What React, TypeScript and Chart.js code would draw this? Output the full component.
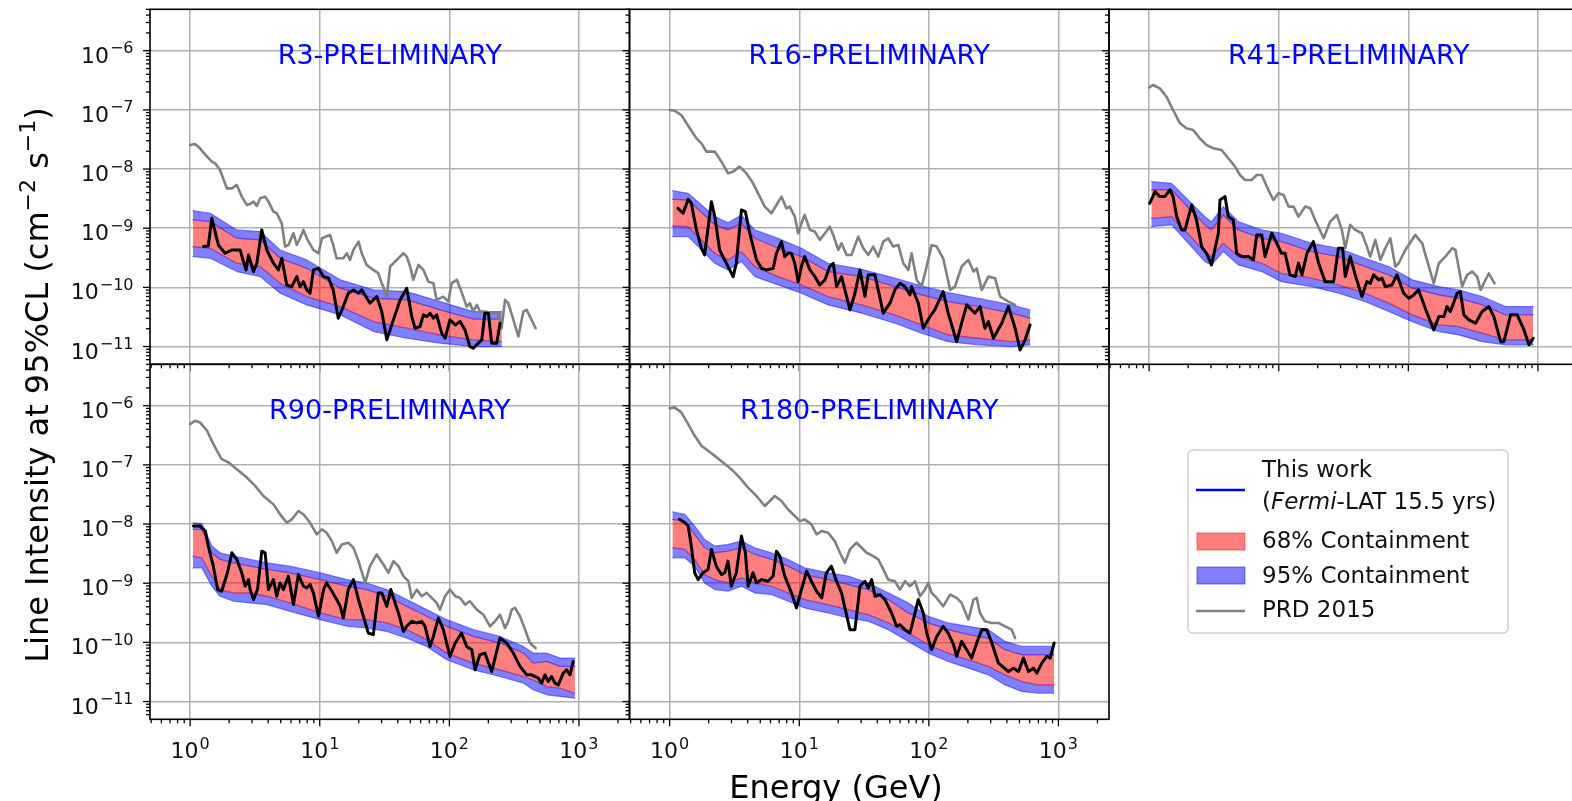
import { useEffect, useRef } from 'react';
import { Chart, registerables } from 'chart.js';

Chart.register(...registerables);

// ---------------- data ----------------
// R3
const r3BandEnergy = [1.05, 1.43, 2.29, 3.47, 4.95, 7.94, 14.4, 26.0, 47.0, 84.9, 153, 254];
const r3Upper95 = [1.98e-9, 1.79e-9, 9.35e-10, 8.77e-10, 4.29e-10, 2.91e-10, 1.34e-10, 9.06e-11, 8.49e-11, 5.75e-11, 3.90e-11, 3.90e-11];
const r3Upper68 = [1.38e-9, 1.29e-9, 6.76e-10, 6.34e-10, 3.10e-10, 2.10e-10, 9.67e-11, 6.55e-11, 6.14e-11, 4.16e-11, 2.90e-11, 2.90e-11];
const r3Lower68 = [4.89e-10, 4.58e-10, 2.56e-10, 2.25e-10, 1.17e-10, 7.00e-11, 4.74e-11, 2.64e-11, 2.04e-11, 1.57e-11, 1.30e-11, 1.21e-11];
const r3Lower95 = [3.31e-10, 3.10e-10, 1.85e-10, 1.52e-10, 7.96e-11, 5.06e-11, 3.43e-11, 1.79e-11, 1.38e-11, 1.14e-11, 1.0e-11, 1.0e-11];
const r3LimitEnergy = [1.27, 1.38, 1.47, 1.65, 1.86, 2.10, 2.43, 2.58, 2.70, 2.82, 2.95, 3.08, 3.27, 3.57, 3.90, 4.39, 4.80, 5.09, 5.57, 6.08, 6.65, 7.05, 7.48, 7.94, 8.42, 8.93, 9.77, 10.7, 11.7, 12.7, 13.9, 15.2, 16.6, 18.2, 19.9, 21.1, 24.4, 27.5, 30.1, 32.9, 37.0, 41.7, 46.9, 51.3, 54.3, 59.4, 63.1, 66.8, 71.0, 75.3, 79.8, 87.3, 92.7, 101, 111, 121, 132, 144, 153, 167, 178, 188, 200, 212, 232, 246];
const r3Limit = [4.89e-10, 5.01e-10, 1.47e-9, 5.21e-10, 3.77e-10, 4.29e-10, 4.29e-10, 2.73e-10, 1.97e-10, 3.53e-10, 2.56e-10, 1.85e-10, 2.56e-10, 9.35e-10, 4.29e-10, 2.56e-10, 1.97e-10, 3.10e-10, 1.10e-10, 1.03e-10, 1.52e-10, 1.03e-10, 1.25e-10, 9.06e-11, 7.96e-11, 1.97e-10, 2.10e-10, 1.52e-10, 1.43e-10, 9.06e-11, 3.01e-11, 4.74e-11, 7.96e-11, 9.06e-11, 7.96e-11, 9.06e-11, 5.40e-11, 7.00e-11, 3.90e-11, 1.30e-11, 2.82e-11, 6.14e-11, 9.67e-11, 3.21e-11, 2.04e-11, 2.18e-11, 3.43e-11, 3.21e-11, 3.66e-11, 3.01e-11, 3.43e-11, 1.68e-11, 1.38e-11, 2.82e-11, 2.32e-11, 2.64e-11, 1.91e-11, 1.0e-11, 9.37e-12, 1.14e-11, 1.30e-11, 3.66e-11, 3.66e-11, 1.14e-11, 1.14e-11, 2.48e-11];
const r3PrdEnergy = [1.0, 1.09, 1.19, 1.35, 1.47, 1.56, 1.70, 1.92, 2.10, 2.29, 2.50, 2.74, 2.90, 3.08, 3.27, 3.47, 3.79, 4.02, 4.39, 4.66, 5.09, 5.40, 5.73, 6.27, 6.65, 7.05, 7.48, 7.94, 8.93, 9.77, 10.4, 12.0, 12.7, 13.5, 15.2, 16.2, 17.1, 18.2, 19.9, 21.1, 23.0, 25.9, 28.3, 30.1, 31.9, 32.9, 34.9, 39.3, 44.2, 46.9, 49.8, 52.7, 57.7, 63.1, 68.9, 75.3, 79.8, 89.9, 98.2, 104, 114, 124, 136, 144, 153, 163, 172, 188, 206, 239, 253, 269, 285, 312, 341, 372, 395, 431, 463];
const r3Prd = [2.55e-8, 2.65e-8, 2.24e-8, 1.62e-8, 1.33e-8, 1.25e-8, 9.64e-9, 4.72e-9, 4.72e-9, 5.38e-9, 3.42e-9, 2.47e-9, 2.57e-9, 2.81e-9, 2.38e-9, 3.21e-9, 3.42e-9, 2.81e-9, 1.91e-9, 1.79e-9, 1.21e-9, 4.89e-10, 5.21e-10, 8.21e-10, 5.21e-10, 6.76e-10, 9.35e-10, 6.76e-10, 4.29e-10, 3.77e-10, 6.76e-10, 7.69e-10, 5.21e-10, 3.10e-10, 3.10e-10, 3.77e-10, 2.91e-10, 4.29e-10, 5.94e-10, 3.77e-10, 2.40e-10, 1.97e-10, 1.73e-10, 1.17e-10, 8.49e-11, 7.00e-11, 2.25e-10, 2.91e-10, 3.77e-10, 3.31e-10, 2.25e-10, 1.34e-10, 2.40e-10, 1.97e-10, 1.25e-10, 1.17e-10, 6.14e-11, 7.00e-11, 5.75e-11, 1.17e-10, 1.34e-10, 8.49e-11, 4.74e-11, 5.40e-11, 3.90e-11, 5.06e-11, 3.90e-11, 3.90e-11, 3.66e-11, 3.66e-11, 2.04e-11, 6.14e-11, 5.40e-11, 2.82e-11, 1.48e-11, 3.90e-11, 4.16e-11, 2.82e-11, 2.04e-11];

// R16
const r16BandEnergy = [1.05, 1.39, 2.23, 2.82, 3.58, 4.54, 6.87, 10.4, 16.7, 30.3, 54.7, 87.9, 141, 241, 436, 604];
const r16Upper95 = [4.31e-9, 3.89e-9, 1.57e-9, 1.24e-9, 1.67e-9, 9.35e-10, 6.76e-10, 4.58e-10, 2.56e-10, 2.02e-10, 1.43e-10, 1.06e-10, 8.17e-11, 6.55e-11, 5.06e-11, 4.16e-11];
const r16Upper68 = [3.08e-9, 3.00e-9, 1.14e-9, 9.35e-10, 1.21e-9, 6.76e-10, 4.58e-10, 3.31e-10, 1.85e-10, 1.52e-10, 1.03e-10, 7.46e-11, 5.75e-11, 4.74e-11, 3.66e-11, 3.01e-11];
const r16Lower68 = [1.09e-9, 1.06e-9, 3.77e-10, 2.91e-10, 4.03e-10, 2.25e-10, 1.52e-10, 1.10e-10, 7.00e-11, 5.06e-11, 3.43e-11, 2.32e-11, 1.57e-11, 1.38e-11, 1.21e-11, 1.30e-11];
const r16Lower95 = [7.21e-10, 7.21e-10, 2.56e-10, 1.97e-10, 2.73e-10, 1.52e-10, 1.10e-10, 7.96e-11, 5.06e-11, 3.66e-11, 2.48e-11, 1.68e-11, 1.21e-11, 1.07e-11, 1.0e-11, 1.07e-11];
const r16LimitEnergy = [1.16, 1.27, 1.39, 1.47, 1.61, 1.76, 1.86, 2.10, 2.23, 2.43, 2.82, 3.09, 3.27, 3.58, 3.84, 4.15, 4.68, 5.11, 5.58, 6.29, 6.67, 7.29, 7.73, 8.20, 8.71, 9.24, 9.81, 10.4, 11.0, 12.1, 13.2, 14.4, 15.8, 17.2, 18.3, 19.4, 21.2, 22.5, 24.6, 26.9, 29.4, 32.1, 34.1, 38.4, 44.5, 50.1, 54.7, 59.8, 65.4, 71.5, 73.6, 82.9, 90.6, 102, 111, 129, 141, 164, 179, 196, 214, 227, 248, 271, 288, 315, 365, 411, 463, 506, 553, 604];
const r16Limit = [2.17e-9, 1.79e-9, 3.08e-9, 2.64e-9, 9.35e-10, 4.58e-10, 3.53e-10, 2.81e-9, 1.57e-9, 4.29e-10, 2.25e-10, 1.52e-10, 2.56e-10, 2.04e-9, 1.91e-9, 8.21e-10, 2.91e-10, 2.10e-10, 1.97e-10, 2.10e-10, 3.77e-10, 5.94e-10, 3.31e-10, 3.77e-10, 3.77e-10, 2.56e-10, 1.25e-10, 2.25e-10, 3.31e-10, 1.97e-10, 1.52e-10, 1.10e-10, 1.34e-10, 2.25e-10, 2.56e-10, 1.03e-10, 1.52e-10, 9.06e-11, 4.16e-11, 7.96e-11, 1.97e-10, 7.00e-11, 1.63e-10, 1.63e-10, 3.66e-11, 5.40e-11, 9.06e-11, 1.17e-10, 1.03e-10, 7.46e-11, 1.03e-10, 5.40e-11, 2.04e-11, 3.21e-11, 4.16e-11, 8.49e-11, 3.66e-11, 1.21e-11, 2.48e-11, 5.06e-11, 4.16e-11, 3.66e-11, 4.74e-11, 2.04e-11, 2.64e-11, 1.38e-11, 2.48e-11, 4.74e-11, 2.04e-11, 8.79e-12, 1.30e-11, 2.32e-11];
const r16PrdEnergy = [1.0, 1.09, 1.23, 1.43, 1.61, 1.76, 1.92, 2.23, 2.51, 2.82, 3.09, 3.47, 3.91, 4.40, 4.96, 5.42, 6.10, 6.67, 7.29, 7.96, 8.45, 9.24, 9.81, 10.4, 11.0, 12.1, 13.2, 14.4, 15.8, 17.2, 18.3, 20.0, 21.2, 23.2, 25.3, 28.5, 31.2, 34.1, 37.2, 40.7, 44.5, 48.6, 53.1, 58.1, 63.5, 69.4, 73.6, 80.5, 87.9, 96.2, 105, 115, 129, 146, 159, 179, 202, 221, 234, 256, 288, 324, 355, 411, 463];
const r16Prd = [9.95e-8, 9.69e-8, 8.18e-8, 4.88e-8, 3.30e-8, 2.72e-8, 1.97e-8, 1.97e-8, 1.33e-8, 8.47e-9, 9.04e-9, 1.10e-8, 8.47e-9, 5.74e-9, 3.42e-9, 2.32e-9, 1.79e-9, 2.47e-9, 3.42e-9, 2.17e-9, 2.32e-9, 1.57e-9, 8.21e-10, 1.21e-9, 1.67e-9, 9.35e-10, 8.77e-10, 6.34e-10, 8.21e-10, 1.06e-9, 7.69e-10, 4.29e-10, 5.56e-10, 3.53e-10, 3.53e-10, 7.21e-10, 4.58e-10, 3.53e-10, 4.89e-10, 3.31e-10, 5.94e-10, 6.76e-10, 4.89e-10, 5.21e-10, 2.56e-10, 1.97e-10, 3.77e-10, 1.34e-10, 1.03e-10, 2.25e-10, 5.21e-10, 4.89e-10, 3.10e-10, 9.06e-11, 1.03e-10, 2.25e-10, 2.91e-10, 1.85e-10, 2.10e-10, 9.06e-11, 1.52e-10, 1.43e-10, 7.00e-11, 5.75e-11, 5.06e-11];

// R41
const r41BandEnergy = [1.04, 1.49, 2.69, 3.03, 3.73, 4.88, 7.39, 10.5, 18.0, 28.9, 46.5, 70.5, 107, 172, 245, 371, 562, 920];
const r41Upper95 = [6.12e-9, 5.74e-9, 1.57e-9, 1.29e-9, 2.32e-9, 1.29e-9, 9.35e-10, 8.21e-10, 5.56e-10, 4.58e-10, 3.10e-10, 2.25e-10, 1.34e-10, 1.03e-10, 9.06e-11, 7.00e-11, 4.74e-11, 4.74e-11];
const r41Upper68 = [4.43e-9, 4.43e-9, 1.14e-9, 9.35e-10, 1.67e-9, 9.35e-10, 6.76e-10, 5.94e-10, 4.03e-10, 3.31e-10, 2.25e-10, 1.63e-10, 9.67e-11, 7.46e-11, 6.55e-11, 5.06e-11, 3.43e-11, 3.43e-11];
const r41Lower68 = [1.47e-9, 1.57e-9, 4.03e-10, 3.31e-10, 5.56e-10, 3.31e-10, 2.56e-10, 1.73e-10, 1.43e-10, 1.10e-10, 7.96e-11, 5.40e-11, 3.43e-11, 2.32e-11, 2.18e-11, 1.68e-11, 1.30e-11, 1.30e-11];
const r41Lower95 = [1.06e-9, 1.14e-9, 2.73e-10, 2.40e-10, 4.03e-10, 2.40e-10, 1.85e-10, 1.25e-10, 1.03e-10, 7.96e-11, 5.75e-11, 3.90e-11, 2.64e-11, 1.79e-11, 1.57e-11, 1.21e-11, 1.07e-11, 1.07e-11];
const r41LimitEnergy = [1.01, 1.11, 1.21, 1.32, 1.45, 1.53, 1.63, 1.78, 1.89, 2.13, 2.32, 2.54, 2.77, 3.03, 3.42, 3.52, 3.85, 4.08, 4.46, 4.73, 5.18, 5.83, 6.37, 6.76, 7.39, 7.84, 8.83, 9.66, 10.5, 11.2, 12.2, 13.4, 14.2, 15.1, 16.5, 18.5, 20.3, 22.8, 26.5, 28.9, 31.1, 32.6, 35.6, 38.9, 43.8, 47.9, 50.8, 54.0, 59.0, 62.5, 66.4, 74.8, 81.7, 92.0, 101, 110, 120, 135, 157, 172, 188, 199, 211, 238, 252, 268, 293, 330, 371, 418, 457, 515, 546, 615, 692, 780, 852, 920];
const r41Limit = [2.64e-9, 4.15e-9, 3.42e-9, 3.42e-9, 4.43e-9, 3.42e-9, 1.57e-9, 9.35e-10, 9.35e-10, 2.47e-9, 1.38e-9, 4.89e-10, 3.77e-10, 2.40e-10, 8.21e-10, 3.00e-9, 3.42e-9, 1.57e-9, 1.38e-9, 3.77e-10, 3.31e-10, 3.31e-10, 2.91e-10, 7.69e-10, 7.69e-10, 3.31e-10, 8.21e-10, 5.56e-10, 3.77e-10, 3.77e-10, 1.63e-10, 1.52e-10, 2.56e-10, 1.63e-10, 3.77e-10, 5.94e-10, 2.56e-10, 1.25e-10, 1.25e-10, 4.58e-10, 4.58e-10, 1.52e-10, 3.31e-10, 1.63e-10, 7.00e-11, 1.25e-10, 1.17e-10, 1.63e-10, 1.34e-10, 1.43e-10, 1.03e-10, 1.10e-10, 1.63e-10, 7.96e-11, 6.55e-11, 7.46e-11, 9.06e-11, 4.45e-11, 1.91e-11, 3.21e-11, 3.21e-11, 4.74e-11, 3.90e-11, 7.96e-11, 8.49e-11, 3.43e-11, 2.82e-11, 2.48e-11, 3.90e-11, 4.74e-11, 3.21e-11, 1.21e-11, 1.21e-11, 3.43e-11, 3.43e-11, 1.91e-11, 1.07e-11, 1.38e-11];
const r41PrdEnergy = [1.0, 1.07, 1.21, 1.36, 1.53, 1.73, 1.94, 2.19, 2.46, 2.77, 3.13, 3.62, 4.08, 4.60, 5.02, 5.49, 6.18, 6.76, 7.39, 8.32, 9.10, 9.94, 10.9, 11.9, 13.0, 14.2, 16.0, 17.5, 19.1, 22.2, 24.9, 28.1, 30.7, 32.6, 35.6, 38.9, 43.8, 47.9, 50.8, 55.6, 60.8, 66.4, 72.6, 79.3, 84.2, 94.8, 113, 128, 139, 157, 172, 193, 218, 231, 260, 284, 311, 340, 361, 382, 418, 462];
const r41Prd = [2.40e-7, 2.63e-7, 2.31e-7, 1.67e-7, 9.95e-8, 5.93e-8, 4.88e-8, 4.57e-8, 3.30e-8, 2.55e-8, 2.24e-8, 2.10e-8, 1.52e-8, 1.10e-8, 7.94e-9, 6.53e-9, 6.53e-9, 7.94e-9, 7.94e-9, 4.43e-9, 3.00e-9, 3.89e-9, 3.65e-9, 2.32e-9, 2.32e-9, 1.57e-9, 2.32e-9, 2.17e-9, 1.38e-9, 6.76e-10, 1.29e-9, 1.67e-9, 9.35e-10, 4.58e-10, 1.14e-9, 9.35e-10, 8.21e-10, 4.89e-10, 3.31e-10, 6.34e-10, 2.91e-10, 4.58e-10, 6.76e-10, 2.25e-10, 2.56e-10, 4.29e-10, 7.69e-10, 5.56e-10, 2.91e-10, 1.17e-10, 2.56e-10, 3.31e-10, 4.58e-10, 4.29e-10, 1.03e-10, 1.63e-10, 1.85e-10, 1.52e-10, 9.06e-11, 1.17e-10, 1.73e-10, 1.17e-10];

// R90
const r90BandEnergy = [1.05, 1.23, 1.47, 1.70, 2.16, 2.90, 3.90, 5.90, 10.1, 16.2, 23.0, 32.9, 46.9, 66.8, 95.4, 153, 246, 372, 444, 563, 713, 931];
const r90Upper95 = [1.05e-8, 1.03e-8, 4.24e-9, 3.27e-9, 2.87e-9, 2.52e-9, 2.21e-9, 1.94e-9, 1.50e-9, 1.15e-9, 1.01e-9, 7.81e-10, 5.29e-10, 3.58e-10, 2.42e-10, 1.64e-10, 1.26e-10, 8.55e-11, 6.59e-11, 6.59e-11, 5.42e-11, 5.42e-11];
const r90Upper68 = [8.13e-9, 8.13e-9, 3.27e-9, 2.52e-9, 2.21e-9, 1.94e-9, 1.71e-9, 1.50e-9, 1.15e-9, 8.89e-10, 7.81e-10, 6.02e-10, 4.07e-10, 2.76e-10, 1.87e-10, 1.26e-10, 9.75e-11, 6.59e-11, 4.47e-11, 4.76e-11, 3.92e-11, 3.92e-11];
const r90Lower68 = [2.87e-9, 2.69e-9, 1.32e-9, 7.81e-10, 6.86e-10, 6.86e-10, 6.02e-10, 4.65e-10, 3.14e-10, 2.42e-10, 2.42e-10, 2.13e-10, 1.64e-10, 1.11e-10, 6.59e-11, 4.47e-11, 3.44e-11, 2.65e-11, 2.33e-11, 1.79e-11, 1.68e-11, 1.38e-11];
const r90Lower95 = [1.82e-9, 1.82e-9, 8.89e-10, 6.02e-10, 4.95e-10, 4.65e-10, 4.35e-10, 3.35e-10, 2.42e-10, 1.87e-10, 1.75e-10, 1.53e-10, 1.18e-10, 8.55e-11, 5.08e-11, 3.44e-11, 2.65e-11, 2.05e-11, 1.58e-11, 1.30e-11, 1.22e-11, 1.14e-11];
const r90LimitEnergy = [1.06, 1.19, 1.31, 1.38, 1.51, 1.63, 1.75, 1.94, 2.10, 2.29, 2.50, 2.66, 2.82, 2.90, 3.08, 3.31, 3.57, 3.79, 4.02, 4.39, 4.66, 4.94, 5.25, 5.73, 6.27, 6.84, 7.48, 7.94, 8.42, 8.93, 9.77, 10.7, 11.3, 12.4, 13.5, 14.4, 15.2, 16.6, 18.2, 19.9, 21.7, 23.7, 25.9, 28.3, 30.1, 32.9, 35.3, 38.1, 40.5, 44.2, 46.9, 51.3, 56.0, 61.2, 64.9, 71.0, 75.3, 82.2, 89.9, 101, 111, 124, 136, 149, 158, 172, 188, 212, 246, 277, 312, 351, 395, 431, 486, 515, 547, 580, 615, 653, 693, 757, 804, 853, 904];
const r90Limit = [9.25e-9, 9.25e-9, 7.60e-9, 4.24e-9, 1.94e-9, 7.81e-10, 7.31e-10, 1.50e-9, 3.27e-9, 2.52e-9, 1.50e-9, 8.89e-10, 1.15e-9, 7.81e-10, 5.29e-10, 7.81e-10, 3.48e-9, 3.27e-9, 7.81e-10, 1.15e-9, 6.02e-10, 1.01e-9, 7.81e-10, 1.32e-9, 4.35e-10, 1.40e-9, 8.89e-10, 8.34e-10, 9.48e-10, 6.86e-10, 2.76e-10, 7.81e-10, 1.01e-9, 7.31e-10, 5.29e-10, 4.07e-10, 2.58e-10, 7.81e-10, 1.15e-9, 5.29e-10, 2.76e-10, 1.44e-10, 1.35e-10, 6.86e-10, 6.86e-10, 4.07e-10, 7.81e-10, 4.65e-10, 3.14e-10, 1.53e-10, 1.87e-10, 2.27e-10, 2.13e-10, 2.27e-10, 1.87e-10, 8.55e-11, 1.26e-10, 2.58e-10, 1.64e-10, 5.80e-11, 9.75e-11, 1.44e-10, 8.55e-11, 7.52e-11, 3.44e-11, 6.18e-11, 6.59e-11, 3.22e-11, 1.18e-10, 9.75e-11, 6.59e-11, 3.92e-11, 2.83e-11, 2.83e-11, 2.48e-11, 2.05e-11, 2.83e-11, 2.18e-11, 2.65e-11, 2.05e-11, 1.91e-11, 3.02e-11, 3.44e-11, 2.83e-11, 4.76e-11];
const r90PrdEnergy = [1.0, 1.09, 1.19, 1.35, 1.47, 1.61, 1.75, 1.98, 2.29, 2.74, 3.17, 3.68, 4.39, 4.94, 5.57, 6.08, 6.84, 7.48, 8.42, 9.48, 10.4, 11.3, 12.4, 13.5, 14.8, 16.6, 18.2, 19.9, 22.4, 24.4, 27.5, 31.0, 33.9, 37.0, 40.5, 44.2, 48.3, 51.3, 56.0, 61.2, 66.8, 73.1, 79.8, 84.7, 92.6, 101, 111, 121, 132, 144, 163, 183, 206, 225, 246, 269, 285, 303, 321, 351, 384, 419, 463];
const r90Prd = [4.89e-7, 5.57e-7, 5.22e-7, 3.77e-7, 2.55e-7, 1.73e-7, 1.25e-7, 1.10e-7, 8.45e-8, 6.10e-8, 4.41e-8, 2.98e-8, 2.15e-8, 1.46e-8, 1.05e-8, 1.20e-8, 1.66e-8, 1.46e-8, 1.05e-8, 6.68e-9, 8.13e-9, 7.13e-9, 5.15e-9, 3.27e-9, 4.52e-9, 4.83e-9, 3.97e-9, 2.36e-9, 1.01e-9, 1.94e-9, 3.06e-9, 2.07e-9, 1.50e-9, 2.36e-9, 1.94e-9, 1.32e-9, 1.08e-9, 5.64e-10, 7.81e-10, 6.02e-10, 6.86e-10, 5.64e-10, 4.65e-10, 3.58e-10, 6.02e-10, 7.81e-10, 6.02e-10, 5.64e-10, 4.35e-10, 4.95e-10, 3.58e-10, 2.94e-10, 1.87e-10, 2.27e-10, 2.94e-10, 1.75e-10, 2.27e-10, 3.58e-10, 3.82e-10, 2.76e-10, 1.64e-10, 9.75e-11, 8.02e-11];

// R180
const r180BandEnergy = [1.05, 1.31, 1.56, 1.86, 2.23, 2.82, 3.58, 4.54, 6.10, 8.20, 11.0, 16.7, 23.9, 34.1, 48.6, 69.4, 99.0, 141, 202, 288, 387, 521, 701, 926];
const r180Upper95 = [1.60e-8, 1.46e-8, 9.25e-9, 5.50e-9, 4.24e-9, 4.52e-9, 5.15e-9, 3.97e-9, 3.27e-9, 2.52e-9, 1.82e-9, 1.50e-9, 1.32e-9, 1.01e-9, 6.86e-10, 4.65e-10, 2.76e-10, 2.13e-10, 1.87e-10, 1.64e-10, 1.04e-10, 8.55e-11, 8.55e-11, 8.55e-11];
const r180Upper68 = [1.20e-8, 1.12e-8, 6.68e-9, 3.97e-9, 3.27e-9, 3.48e-9, 3.97e-9, 3.06e-9, 2.52e-9, 1.94e-9, 1.40e-9, 1.15e-9, 9.48e-10, 7.81e-10, 5.29e-10, 3.14e-10, 2.13e-10, 1.64e-10, 1.35e-10, 1.18e-10, 7.52e-11, 6.18e-11, 6.18e-11, 6.18e-11];
const r180Lower68 = [3.97e-9, 3.72e-9, 2.52e-9, 1.40e-9, 1.15e-9, 1.01e-9, 1.23e-9, 1.01e-9, 8.89e-10, 6.86e-10, 5.29e-10, 4.35e-10, 3.58e-10, 2.94e-10, 2.13e-10, 1.44e-10, 9.12e-11, 6.59e-11, 5.08e-11, 3.92e-11, 2.83e-11, 2.18e-11, 1.91e-11, 1.91e-11];
const r180Lower95 = [2.69e-9, 2.69e-9, 1.94e-9, 1.01e-9, 7.81e-10, 7.31e-10, 8.89e-10, 6.86e-10, 6.43e-10, 4.95e-10, 3.82e-10, 3.14e-10, 2.58e-10, 2.27e-10, 1.64e-10, 1.04e-10, 6.59e-11, 4.76e-11, 3.67e-11, 2.83e-11, 1.91e-11, 1.48e-11, 1.38e-11, 1.38e-11];
const r180LimitEnergy = [1.19, 1.31, 1.39, 1.47, 1.56, 1.66, 1.81, 1.98, 2.10, 2.29, 2.51, 2.66, 2.82, 2.99, 3.27, 3.58, 3.84, 4.03, 4.40, 4.68, 5.11, 5.75, 6.29, 6.67, 7.08, 7.73, 8.71, 9.52, 10.4, 11.4, 12.4, 13.6, 14.9, 16.2, 17.7, 19.4, 21.2, 22.5, 24.6, 26.9, 29.4, 32.1, 34.1, 36.2, 38.4, 41.9, 45.8, 51.6, 56.4, 59.8, 65.4, 71.5, 78.2, 82.9, 90.6, 96.2, 105, 115, 129, 141, 155, 164, 179, 196, 214, 234, 256, 280, 306, 344, 411, 450, 491, 537, 587, 642, 681, 744, 813, 863, 926];
const r180Limit = [1.20e-8, 1.05e-8, 9.25e-9, 4.24e-9, 1.50e-9, 1.15e-9, 1.50e-9, 1.71e-9, 3.72e-9, 1.94e-9, 1.40e-9, 1.50e-9, 2.36e-9, 8.89e-10, 1.50e-9, 6.27e-9, 3.27e-9, 8.89e-10, 1.50e-9, 1.01e-9, 1.15e-9, 1.08e-9, 1.32e-9, 3.48e-9, 2.87e-9, 1.32e-9, 6.86e-10, 3.82e-10, 7.81e-10, 1.60e-9, 1.08e-9, 7.31e-10, 5.64e-10, 1.50e-9, 1.94e-9, 1.08e-9, 6.86e-10, 3.82e-10, 1.64e-10, 1.64e-10, 8.89e-10, 1.08e-9, 8.34e-10, 1.15e-9, 6.02e-10, 6.43e-10, 5.29e-10, 3.14e-10, 1.87e-10, 1.99e-10, 1.64e-10, 1.44e-10, 3.14e-10, 5.29e-10, 3.14e-10, 1.44e-10, 7.52e-11, 1.26e-10, 1.87e-10, 1.44e-10, 9.12e-11, 5.80e-11, 1.04e-10, 7.52e-11, 5.42e-11, 9.75e-11, 1.64e-10, 1.64e-10, 9.75e-11, 4.47e-11, 3.22e-11, 3.67e-11, 3.22e-11, 5.42e-11, 3.22e-11, 3.67e-11, 3.02e-11, 4.47e-11, 5.80e-11, 5.42e-11, 9.75e-11];
const r180PrdEnergy = [1.0, 1.09, 1.23, 1.39, 1.56, 1.76, 1.98, 2.23, 2.58, 2.99, 3.47, 4.03, 4.68, 5.42, 5.93, 6.48, 7.29, 8.20, 9.24, 10.1, 11.0, 12.4, 13.6, 14.9, 16.7, 18.8, 20.6, 22.5, 24.6, 27.7, 30.3, 33.1, 37.2, 40.7, 44.5, 48.6, 54.7, 59.8, 65.4, 71.5, 78.2, 85.4, 93.4, 99.0, 105, 115, 129, 146, 164, 179, 202, 221, 234, 248, 271, 306, 344, 387, 436, 463];
const r180Prd = [9.02e-7, 9.37e-7, 7.71e-7, 4.89e-7, 3.10e-7, 2.10e-7, 1.73e-7, 1.42e-7, 1.10e-7, 8.45e-8, 6.10e-8, 4.13e-8, 2.98e-8, 2.02e-8, 2.45e-8, 2.98e-8, 2.45e-8, 1.77e-8, 1.37e-8, 1.12e-8, 1.20e-8, 9.87e-9, 6.68e-9, 7.60e-9, 7.13e-9, 5.15e-9, 3.27e-9, 2.21e-9, 3.72e-9, 4.83e-9, 3.97e-9, 3.27e-9, 2.87e-9, 2.52e-9, 1.71e-9, 1.15e-9, 1.08e-9, 7.81e-10, 1.08e-9, 8.89e-10, 1.08e-9, 6.02e-10, 7.81e-10, 1.01e-9, 6.86e-10, 5.64e-10, 4.07e-10, 6.43e-10, 5.64e-10, 4.65e-10, 2.42e-10, 5.29e-10, 5.64e-10, 3.14e-10, 2.27e-10, 2.13e-10, 2.13e-10, 1.87e-10, 1.64e-10, 1.18e-10];

// axis ticks / labels
const xTickValues = [1, 10, 100, 1000];
const yTickValues = [1e-11, 1e-10, 1e-9, 1e-8, 1e-7, 1e-6];
const panelTitles = ['R3-PRELIMINARY', 'R16-PRELIMINARY', 'R41-PRELIMINARY', 'R90-PRELIMINARY', 'R180-PRELIMINARY'];
const legendLabels = ['This work', '68% Containment', '95% Containment', 'PRD 2015'];
const xTitle = 'Energy (GeV)';
const yTitleParts: [string, boolean][] = [['Line Intensity at 95%CL (cm', false], ['−2', true], [' s', false], ['−1', true], [')', false]];

// ---------------- layout / style ----------------
const FONT = "'DejaVu Sans', 'Liberation Sans', sans-serif";
const CANVAS_H = 801;
const PANEL_W = 479.5;
const PANEL_H = 355;
const Y_AXIS_W = 80;
const X_AXIS_H = 50;
const X_MIN = 0.49;
const X_MAX = 2455;
const Y_MIN = 5.01e-12;
const Y_MAX = 5.01e-6;
const GRID = '#b0b0b0';
const BLUE_FILL = 'rgba(0,0,255,0.5)';
const RED_FILL = 'rgba(255,0,0,0.5)';
const BLUE_EDGE = 'rgba(40,40,255,0.55)';
const PURPLE_EDGE = 'rgba(100,0,170,0.55)';

const panelLayout = [
  { left: 150, top: 9.3, yLabels: true, xLabels: false, canvasW: 1572 },
  { left: 629.5, top: 9.3, yLabels: false, xLabels: false, canvasW: 1572 },
  { left: 1109, top: 9.3, yLabels: false, xLabels: false, canvasW: 1600 },
  { left: 150, top: 364.3, yLabels: true, xLabels: true, canvasW: 1572 },
  { left: 629.5, top: 364.3, yLabels: false, xLabels: true, canvasW: 1572 },
];

const panelData = [
  { e: r3LimitEnergy, v: r3Limit, pe: r3PrdEnergy, pv: r3Prd, be: r3BandEnergy, u95: r3Upper95, u68: r3Upper68, l68: r3Lower68, l95: r3Lower95 },
  { e: r16LimitEnergy, v: r16Limit, pe: r16PrdEnergy, pv: r16Prd, be: r16BandEnergy, u95: r16Upper95, u68: r16Upper68, l68: r16Lower68, l95: r16Lower95 },
  { e: r41LimitEnergy, v: r41Limit, pe: r41PrdEnergy, pv: r41Prd, be: r41BandEnergy, u95: r41Upper95, u68: r41Upper68, l68: r41Lower68, l95: r41Lower95 },
  { e: r90LimitEnergy, v: r90Limit, pe: r90PrdEnergy, pv: r90Prd, be: r90BandEnergy, u95: r90Upper95, u68: r90Upper68, l68: r90Lower68, l95: r90Lower95 },
  { e: r180LimitEnergy, v: r180Limit, pe: r180PrdEnergy, pv: r180Prd, be: r180BandEnergy, u95: r180Upper95, u68: r180Upper68, l68: r180Lower68, l95: r180Lower95 },
];

const zip = (xs: number[], ys: number[]) => xs.map((x, i) => ({ x, y: ys[i] }));
const expText = (v: number) => {
  const n = Math.round(Math.log10(v));
  return n < 0 ? '−' + String(-n) : String(n);
};

// draws "10" with a mathtext-like superscript exponent
function drawPowLabel(ctx: CanvasRenderingContext2D, v: number, x: number, baseline: number, align: 'right' | 'center') {
  const exp = expText(v);
  ctx.font = `22px ${FONT}`;
  const wMain = ctx.measureText('10').width;
  ctx.font = `16px ${FONT}`;
  const wSup = ctx.measureText(exp).width;
  const total = wMain + 1 + wSup;
  const start = align === 'right' ? x - total : x - total / 2;
  ctx.textAlign = 'left';
  ctx.textBaseline = 'alphabetic';
  ctx.font = `22px ${FONT}`;
  ctx.fillText('10', start, baseline);
  ctx.font = `16px ${FONT}`;
  ctx.fillText(exp, start + wMain + 1, baseline - 9.5);
}

const panelPlugin = (i: number) => ({
  id: 'panelDeco' + i,
  afterDraw(chart: any) {
    const { ctx, chartArea: a } = chart;
    const xs = chart.scales.x;
    const ys = chart.scales.y;
    const L = panelLayout[i];
    ctx.save();
    ctx.strokeStyle = '#000';
    ctx.lineWidth = 1.3;
    for (let e = -12; e <= -5; e++) {
      for (let m = 1; m <= 9; m++) {
        const v = m * Math.pow(10, e);
        if (v < ys.min || v > ys.max) continue;
        const p = ys.getPixelForValue(v);
        const len = m === 1 ? 7 : 4;
        ctx.beginPath();
        ctx.moveTo(a.left - len, p);
        ctx.lineTo(a.left, p);
        ctx.stroke();
      }
    }
    for (let e = -1; e <= 3; e++) {
      for (let m = 1; m <= 9; m++) {
        const v = m * Math.pow(10, e);
        if (v < xs.min || v > xs.max) continue;
        const p = xs.getPixelForValue(v);
        const len = m === 1 ? 7 : 4;
        ctx.beginPath();
        ctx.moveTo(p, a.bottom);
        ctx.lineTo(p, a.bottom + len);
        ctx.stroke();
      }
    }
    ctx.lineWidth = 1.6;
    ctx.strokeRect(a.left, a.top, a.right - a.left, a.bottom - a.top);

    ctx.fillStyle = '#111';
    if (L.yLabels) {
      for (const v of yTickValues) drawPowLabel(ctx, v, a.left - 16.5, ys.getPixelForValue(v) + 12, 'right');
    }
    if (L.xLabels) {
      for (const v of xTickValues) drawPowLabel(ctx, v, xs.getPixelForValue(v), a.bottom + 39, 'center');
    }

    ctx.fillStyle = '#0000ff';
    ctx.font = `27px ${FONT}`;
    ctx.textAlign = 'center';
    ctx.textBaseline = 'alphabetic';
    ctx.fillText(panelTitles[i], (a.left + a.right) / 2, a.top + 55);
    ctx.restore();
  },
});

const figurePlugin = {
  id: 'figureDeco',
  afterDraw(chart: any) {
    const ctx: CanvasRenderingContext2D = chart.ctx;
    ctx.save();
    ctx.fillStyle = '#000';
    ctx.textBaseline = 'alphabetic';
    // x title
    ctx.font = `32px ${FONT}`;
    ctx.textAlign = 'center';
    ctx.fillText(xTitle, 836, 798);
    // y title (rotated, with superscripts)
    ctx.save();
    ctx.translate(48, 385);
    ctx.rotate(-Math.PI / 2);
    ctx.textAlign = 'left';
    let total = 0;
    for (const [t, s] of yTitleParts) {
      ctx.font = s ? `22px ${FONT}` : `32px ${FONT}`;
      total += ctx.measureText(t).width;
    }
    let x = -total / 2;
    for (const [t, s] of yTitleParts) {
      ctx.font = s ? `22px ${FONT}` : `32px ${FONT}`;
      ctx.fillText(t, x, s ? -13 : 0);
      x += ctx.measureText(t).width;
    }
    ctx.restore();

    // legend box
    const bx = 1188, by = 450, bw = 320, bh = 183, r = 5;
    ctx.beginPath();
    ctx.moveTo(bx + r, by);
    ctx.lineTo(bx + bw - r, by);
    ctx.arcTo(bx + bw, by, bx + bw, by + r, r);
    ctx.lineTo(bx + bw, by + bh - r);
    ctx.arcTo(bx + bw, by + bh, bx + bw - r, by + bh, r);
    ctx.lineTo(bx + r, by + bh);
    ctx.arcTo(bx, by + bh, bx, by + bh - r, r);
    ctx.lineTo(bx, by + r);
    ctx.arcTo(bx, by, bx + r, by, r);
    ctx.closePath();
    ctx.fillStyle = 'rgba(255,255,255,0.85)';
    ctx.fill();
    ctx.strokeStyle = '#d0d0d0';
    ctx.lineWidth = 1.5;
    ctx.stroke();

    // handles
    ctx.lineWidth = 2.6;
    ctx.strokeStyle = '#0000ff';
    ctx.beginPath(); ctx.moveTo(1196, 490); ctx.lineTo(1245, 490); ctx.stroke();
    ctx.fillStyle = RED_FILL; ctx.strokeStyle = RED_FILL; ctx.lineWidth = 1;
    ctx.fillRect(1197, 533, 48, 17); ctx.strokeRect(1197, 533, 48, 17);
    ctx.fillStyle = BLUE_FILL; ctx.strokeStyle = BLUE_FILL;
    ctx.fillRect(1197, 567, 48, 17); ctx.strokeRect(1197, 567, 48, 17);
    ctx.strokeStyle = '#808080'; ctx.lineWidth = 2.6;
    ctx.beginPath(); ctx.moveTo(1196, 611); ctx.lineTo(1245, 611); ctx.stroke();

    // legend text
    ctx.fillStyle = '#111';
    ctx.textAlign = 'left';
    const LF = `23px ${FONT}`;
    ctx.font = LF;
    ctx.fillText(legendLabels[0], 1262, 477);
    let tx = 1262;
    ctx.fillText('(', tx, 509); tx += ctx.measureText('(').width;
    ctx.font = `italic 23px ${FONT}`;
    ctx.fillText('Fermi', tx, 509); tx += ctx.measureText('Fermi').width;
    ctx.font = LF;
    ctx.fillText('-LAT 15.5 yrs)', tx, 509);
    ctx.fillText(legendLabels[1], 1262, 548);
    ctx.fillText(legendLabels[2], 1262, 583);
    ctx.fillText(legendLabels[3], 1262, 617);
    ctx.restore();
  },
};

function makeConfig(i: number): any {
  const d = panelData[i];
  const L = panelLayout[i];
  const plugins: any[] = [panelPlugin(i)];
  if (i === 4) plugins.push(figurePlugin);
  const line = { pointRadius: 0, tension: 0, borderJoinStyle: 'round', borderCapStyle: 'round' };
  return {
    type: 'line',
    data: {
      datasets: [
        { label: 'This work', data: zip(d.e, d.v), borderColor: '#000', borderWidth: 3, fill: false, ...line },
        { label: 'PRD 2015', data: zip(d.pe, d.pv), borderColor: '#808080', borderWidth: 2.6, fill: false, ...line },
        { label: '95% upper', data: zip(d.be, d.u95), borderColor: BLUE_EDGE, borderWidth: 1.2, backgroundColor: BLUE_FILL, fill: 3, ...line },
        { label: '68% upper', data: zip(d.be, d.u68), borderColor: PURPLE_EDGE, borderWidth: 1.3, backgroundColor: RED_FILL, fill: 4, ...line },
        { label: '68% lower', data: zip(d.be, d.l68), borderColor: PURPLE_EDGE, borderWidth: 1.3, backgroundColor: BLUE_FILL, fill: 5, ...line },
        { label: '95% lower', data: zip(d.be, d.l95), borderColor: BLUE_EDGE, borderWidth: 1.2, fill: false, ...line },
      ],
    },
    options: {
      responsive: false,
      animation: false,
      devicePixelRatio: 1,
      events: [],
      layout: {
        autoPadding: false,
        padding: {
          left: L.left - Y_AXIS_W,
          top: L.top,
          right: L.canvasW - L.left - PANEL_W,
          bottom: CANVAS_H - L.top - PANEL_H - X_AXIS_H,
        },
      },
      plugins: { legend: { display: false }, tooltip: { enabled: false }, title: { display: false } },
      scales: {
        x: {
          type: 'logarithmic',
          position: 'bottom',
          bounds: 'data',
          min: X_MIN,
          max: X_MAX,
          afterBuildTicks: (s: any) => { s.ticks = xTickValues.map((value) => ({ value })); },
          afterFit: (s: any) => { s.height = X_AXIS_H; s.paddingLeft = 0; s.paddingRight = 0; s.paddingTop = 0; s.paddingBottom = 0; },
          grid: { color: GRID, lineWidth: 1.5, drawTicks: false },
          border: { display: false },
          ticks: { display: false },
        },
        y: {
          type: 'logarithmic',
          position: 'left',
          bounds: 'data',
          min: Y_MIN,
          max: Y_MAX,
          afterBuildTicks: (s: any) => { s.ticks = yTickValues.map((value) => ({ value })); },
          afterFit: (s: any) => { s.width = Y_AXIS_W; s.paddingLeft = 0; s.paddingRight = 0; s.paddingTop = 0; s.paddingBottom = 0; },
          grid: { color: GRID, lineWidth: 1.5, drawTicks: false },
          border: { display: false },
          ticks: { display: false },
        },
      },
    },
    plugins,
  };
}

export default function App() {
  const refs = useRef<(HTMLCanvasElement | null)[]>([]);
  useEffect(() => {
    const charts = panelLayout.map((_, i) => new Chart(refs.current[i] as HTMLCanvasElement, makeConfig(i)));
    return () => charts.forEach((c) => c.destroy());
  }, []);
  return (
    <div style={{ position: 'fixed', left: 0, top: 0, width: 1572, height: CANVAS_H, overflow: 'hidden', background: '#fff' }}>
      {panelLayout.map((L, i) => (
        <canvas
          key={i}
          ref={(el) => { refs.current[i] = el; }}
          width={L.canvasW}
          height={CANVAS_H}
          style={{ position: 'absolute', left: 0, top: 0, width: L.canvasW, height: CANVAS_H }}
        />
      ))}
    </div>
  );
}
